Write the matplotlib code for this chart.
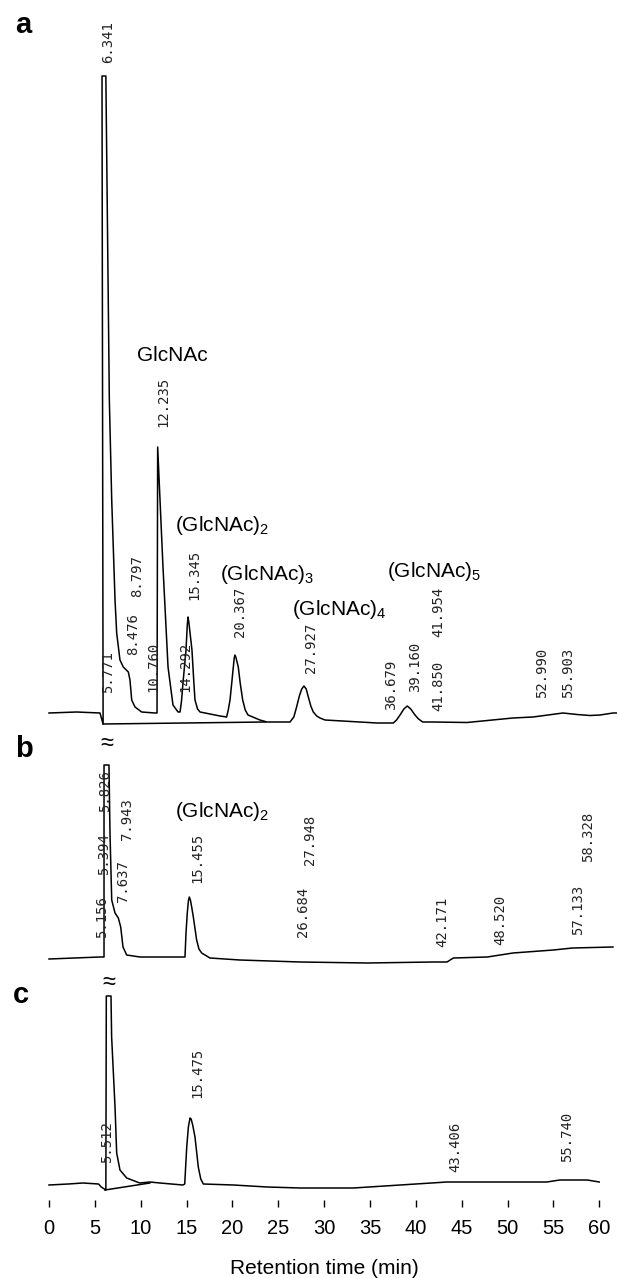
import matplotlib.pyplot as plt

plt.rcParams['mathtext.default'] = 'regular'

# --- chromatogram traces: retention time (min), detector signal (arb. units) ---
# panel a
t_a = [0, 3.0, 5.56, 5.9, 5.78, 6.2, 6.58, 6.84, 7.2, 7.38, 7.74, 8.1, 8.65, 8.83,
       9.02, 9.38, 10.1, 11.56, 11.78, 11.85, 12.43, 12.98, 13.52, 14.07, 14.29,
       14.45, 14.61, 14.94, 15.08, 15.16, 15.26, 15.59, 15.8, 15.92, 16.2, 16.47,
       18.65, 19.37, 19.55, 19.74, 19.95, 20.1, 20.2, 20.28, 20.4, 20.64, 20.85,
       21.12, 21.4, 21.7, 23.0, 23.77, 26.28, 26.7, 27.0, 27.3, 27.56, 27.8,
       28.05, 28.28, 28.55, 28.82, 29.2, 29.55, 30.1, 35.77, 37.55, 37.9, 38.28,
       38.7, 39.07, 39.45, 39.91, 40.3, 40.75, 41.88, 45.58, 50.6, 52.78, 56.05,
       57.58, 59.0, 60.1, 61.5, 61.9]
s_a = [0, 1, 0, -11, 637, 637, 313, 213, 113, 80, 53, 46, 41, 33,
       13, 6, 1, 0, 0, 266, 146, 46, 8, 1, 1,
       12, 30, 63, 88, 96, 90, 63, 30, 13, 4, 1,
       -3, -4, 3, 13, 32, 46, 55, 58, 55, 46, 30,
       13, 3, -2, -7, -9, -9, -4, 6, 17, 24, 27,
       24, 16, 7, 1, -3, -5, -7, -10, -10, -7, -2,
       4, 7, 4, -2, -6, -9, -9, -9.5, -5, -4, 0,
       -1.5, -2.5, -2, 0, 0]
# integration baseline under the a peaks
tb_a = [5.9, 23.6]
sb_a = [-11, -9]

# panel b
t_b = [0, 5.56, 6.0, 6.0, 6.54, 6.65, 6.84, 7.2, 7.56, 7.82, 8.07, 8.47, 9.92,
       14.6, 14.83, 14.94, 15.08, 15.2, 15.3, 15.42, 15.56, 15.74, 16.1, 16.35,
       16.65, 17.55, 20.8, 27.4, 34.7, 41.9, 43.4, 44.1, 47.8, 50.6, 55.0, 57.1,
       61.5]
s_b = [-1, 1, 1, 193, 193, 125, 58, 45, 40, 31, 11, 3, 1,
       1, 1, 25, 45, 57, 61, 58, 51, 41, 18, 9,
       5, 0, -2, -4, -5, -4, -4, 0, 1, 5, 8, 10,
       11]

# panel c
t_c = [0, 2.1, 3.7, 5.4, 5.7, 6.2, 6.25, 6.76, 6.83, 7.2, 7.38, 7.74, 8.47, 9.9,
       11.0, 12.1, 14.6, 14.8, 15.02, 15.2, 15.38, 15.5, 15.67, 15.92, 16.28,
       16.55, 16.83, 20.1, 23.8, 27.4, 33.2, 38.3, 43.4, 44.8, 54.3, 55.7, 58.7,
       60.0]
s_c = [0, 1, 2, 1, -2, -5, 189, 189, 148, 78, 32, 15, 7, 2,
       3, 2, 0, 1, 38, 58, 67, 66, 60, 48, 18,
       6, 1, 0, -2, -3, -3, 0, 3, 3, 3, 5, 5,
       3]
tb_c = [6.1, 11.0]
sb_c = [-5, 2]

# --- integrator peak labels (retention times) ---
rt_a = ['6.341', '5.771', '8.476', '8.797', '10.760', '12.235', '14.292', '15.345',
        '20.367', '27.927', '36.679', '39.160', '41.850', '41.954', '52.990', '55.903']
rt_b = ['5.156', '5.394', '5.826', '7.637', '7.943', '15.455', '26.684', '27.948',
        '42.171', '48.520', '57.133', '58.328']
rt_c = ['5.512', '15.475', '43.406', '55.740']

# label anchor positions (x centre, bottom of text)
lx_a = [6.43, 6.43, 9.16, 9.6, 11.34, 12.43, 14.83, 15.9, 20.8, 28.6, 37.3, 39.9,
        42.5, 42.5, 53.8, 56.6]
ly_a = [650, 20, 58, 116, 21, 286, 21, 113, 76, 40, 3, 21, 2, 76, 15, 15]
lx_b = [5.75, 6.0, 6.1, 8.07, 8.5, 16.14, 27.7, 28.46, 42.86, 49.2, 57.7, 58.8]
ly_b = [20, 83, 146, 56, 118, 75, 21, 93, 11, 13, 23, 96]
lx_c = [6.3, 16.14, 44.3, 56.5]
ly_c = [22, 87, 13, 23]

# compound names
cmp_a = ['GlcNAc', '(GlcNAc)$_2$', '(GlcNAc)$_3$', '(GlcNAc)$_4$', '(GlcNAc)$_5$']
cx_a = [9.6, 13.74, 18.65, 26.5, 36.83]
cy_a = [352, 182, 133, 98, 136]
cmp_b = ['(GlcNAc)$_2$']
cx_b = [13.74]
cy_b = [141]

W, H = 617, 1278
px_per_min = 9.17
x0 = 49
xmin, xmax = -x0 / px_per_min, (W - x0) / px_per_min

fig = plt.figure(figsize=(W / 100, H / 100), dpi=100)


def panel(top, bottom, base):
    ax = fig.add_axes([0, 1 - bottom / H, 1, (bottom - top) / H])
    ax.set_xlim(xmin, xmax)
    ax.set_ylim(base - bottom, base - top)
    for sp in ax.spines.values():
        sp.set_visible(False)
    ax.set_yticks([])
    ax.set_xticks([])
    ax.patch.set_alpha(0)
    return ax


ax_a = panel(0, 735, 713)
ax_b = panel(735, 975, 958)
ax_c = panel(975, 1200, 1185)

lw = 1.1
ax_a.plot(t_a, s_a, color='black', lw=lw)
ax_a.plot(tb_a, sb_a, color='black', lw=lw)
ax_b.plot(t_b, s_b, color='black', lw=lw)
ax_c.plot(t_c, s_c, color='black', lw=lw)
ax_c.plot(tb_c, sb_c, color='black', lw=lw)

mono = 'DejaVu Sans Mono'
for ax, labs, lx, ly in [(ax_a, rt_a, lx_a, ly_a), (ax_b, rt_b, lx_b, ly_b),
                         (ax_c, rt_c, lx_c, ly_c)]:
    for lab, x, y in zip(labs, lx, ly):
        ax.text(x, y, lab, rotation=90, ha='center', va='bottom',
                family=mono, fontsize=10, color='#222222')

sans = ['Liberation Sans', 'DejaVu Sans']
for ax, names, cx, cy in [(ax_a, cmp_a, cx_a, cy_a), (ax_b, cmp_b, cx_b, cy_b)]:
    for nm, x, y in zip(names, cx, cy):
        ax.text(x, y, nm, ha='left', va='baseline', family=sans, fontsize=15)

# off-scale break marks
ax_b.text(6.3, 203, '\u2248', ha='center', va='bottom', fontsize=17,
          family=sans, bbox=dict(fc='white', ec='none', pad=0))
ax_c.text(6.52, 191, '\u2248', ha='center', va='bottom', fontsize=17,
          family=sans, bbox=dict(fc='white', ec='none', pad=0))

# panel letters
for lab, x, y in [('a', 15, 33), ('b', 15, 757), ('c', 13, 1003)]:
    fig.text(x / W, 1 - y / H, lab, fontsize=21, fontweight='bold',
             family=sans, ha='left', va='baseline')

# x axis: tick marks only
ax_c.set_xticks(range(0, 61, 5))
ax_c.tick_params(axis='x', direction='out', length=5, width=1, pad=9,
                 labelsize=14.5)
for lbl in ax_c.get_xticklabels():
    lbl.set_family(sans)
ax_c.set_xlabel('Retention time (min)', fontsize=15, family=sans)
ax_c.xaxis.set_label_coords((30 - xmin) / (xmax - xmin), -0.26)

fig.savefig('out.png', dpi=100)
